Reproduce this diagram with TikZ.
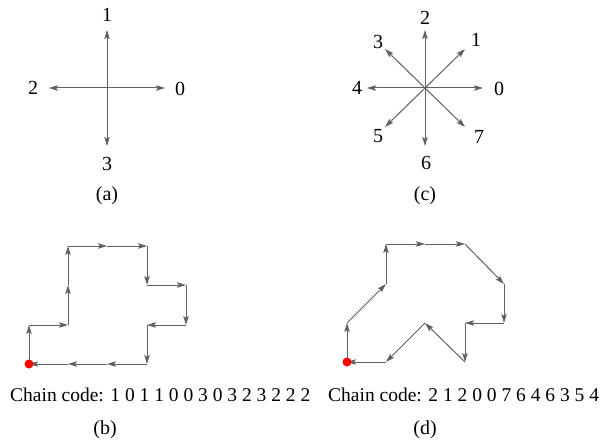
\documentclass[tikz,border=0pt]{standalone}
\usepackage{fontspec}
\setmainfont{Liberation Serif}
\usetikzlibrary{arrows.meta}
\tikzset{
  dir/.style={draw=black!62, line width=1pt, -{Stealth[length=9pt,width=5.5pt,inset=1.8pt]}},
  lbl/.style={font=\fontsize{20}{22}\selectfont, inner sep=0pt},
  code/.style={font=\fontsize{19.5}{22}\selectfont, inner sep=0pt, anchor=base west},
  startdot/.style={circle, fill=red, inner sep=0pt, minimum size=9pt},
}
\begin{document}
\begin{tikzpicture}[x=1pt, y=-1pt]
\useasboundingbox (0,0) rectangle (600,441);
% (a) 4-directional code
\coordinate (ca) at (107,88);
\coordinate (a0) at (165,88);
\coordinate (a1) at (107,30);
\coordinate (a2) at (49,88);
\coordinate (a3) at (107,146);
\draw[dir] (ca) -- (a0);
\draw[dir] (ca) -- (a1);
\draw[dir] (ca) -- (a2);
\draw[dir] (ca) -- (a3);
\node[lbl] (la0) at (180,89) {0};
\node[lbl] (la1) at (107,15) {1};
\node[lbl] (la2) at (33,88) {2};
\node[lbl] (la3) at (107,164) {3};
\node[lbl] (capa) at (107,196) {(a)};
% (c) 8-directional code
\coordinate (cc) at (425,88);
\coordinate (c0) at (483,88);
\coordinate (c1) at (465,49);
\coordinate (c2) at (425,30);
\coordinate (c3) at (385,49);
\coordinate (c4) at (367,88);
\coordinate (c5) at (385,127);
\coordinate (c6) at (425,146);
\coordinate (c7) at (465,127);
\draw[dir] (cc) -- (c0);
\draw[dir] (cc) -- (c1);
\draw[dir] (cc) -- (c2);
\draw[dir] (cc) -- (c3);
\draw[dir] (cc) -- (c4);
\draw[dir] (cc) -- (c5);
\draw[dir] (cc) -- (c6);
\draw[dir] (cc) -- (c7);
\node[lbl] (lc0) at (499,89) {0};
\node[lbl] (lc1) at (476,40) {1};
\node[lbl] (lc2) at (425,18) {2};
\node[lbl] (lc3) at (378,42) {3};
\node[lbl] (lc4) at (357,88) {4};
\node[lbl] (lc5) at (378,136) {5};
\node[lbl] (lc6) at (426,163) {6};
\node[lbl] (lc7) at (479,137) {7};
\node[lbl] (capc) at (425,196) {(c)};
% (b) boundary, 4-directional chain
\coordinate (b0) at (29,364);
\coordinate (b1) at (29,325);
\coordinate (b2) at (68,325);
\coordinate (b3) at (68,285);
\coordinate (b4) at (68,246);
\coordinate (b5) at (107,246);
\coordinate (b6) at (147,246);
\coordinate (b7) at (147,285);
\coordinate (b8) at (186,285);
\coordinate (b9) at (186,325);
\coordinate (b10) at (147,325);
\coordinate (b11) at (147,364);
\coordinate (b12) at (107,364);
\coordinate (b13) at (68,364);
\draw[dir] (b0) -- (b1);
\draw[dir] (b1) -- (b2);
\draw[dir] (b2) -- (b3);
\draw[dir] (b3) -- (b4);
\draw[dir] (b4) -- (b5);
\draw[dir] (b5) -- (b6);
\draw[dir] (b6) -- (b7);
\draw[dir] (b7) -- (b8);
\draw[dir] (b8) -- (b9);
\draw[dir] (b9) -- (b10);
\draw[dir] (b10) -- (b11);
\draw[dir] (b11) -- (b12);
\draw[dir] (b12) -- (b13);
\draw[dir] (b13) -- (b0);
\node[startdot] (sb) at (b0) {};
\node[code] (codeb) at (10,401) {Chain code: 1 0 1 1 0 0 3 0 3 2 3 2 2 2};
\node[lbl] (capb) at (105,430) {(b)};
% (d) boundary, 8-directional chain
\coordinate (d0) at (347,362);
\coordinate (d1) at (347,323);
\coordinate (d2) at (386,284);
\coordinate (d3) at (386,244);
\coordinate (d4) at (425,244);
\coordinate (d5) at (465,244);
\coordinate (d6) at (504,284);
\coordinate (d7) at (504,323);
\coordinate (d8) at (465,323);
\coordinate (d9) at (465,362);
\coordinate (d10) at (425,323);
\coordinate (d11) at (386,362);
\draw[dir] (d0) -- (d1);
\draw[dir] (d1) -- (d2);
\draw[dir] (d2) -- (d3);
\draw[dir] (d3) -- (d4);
\draw[dir] (d4) -- (d5);
\draw[dir] (d5) -- (d6);
\draw[dir] (d6) -- (d7);
\draw[dir] (d7) -- (d8);
\draw[dir] (d8) -- (d9);
\draw[dir] (d9) -- (d10);
\draw[dir] (d10) -- (d11);
\draw[dir] (d11) -- (d0);
\node[startdot] (sd) at (d0) {};
\node[code] (coded) at (328,401) {Chain code: 2 1 2 0 0 7 6 4 6 3 5 4};
\node[lbl] (capd) at (425,430) {(d)};
\end{tikzpicture}
\end{document}
